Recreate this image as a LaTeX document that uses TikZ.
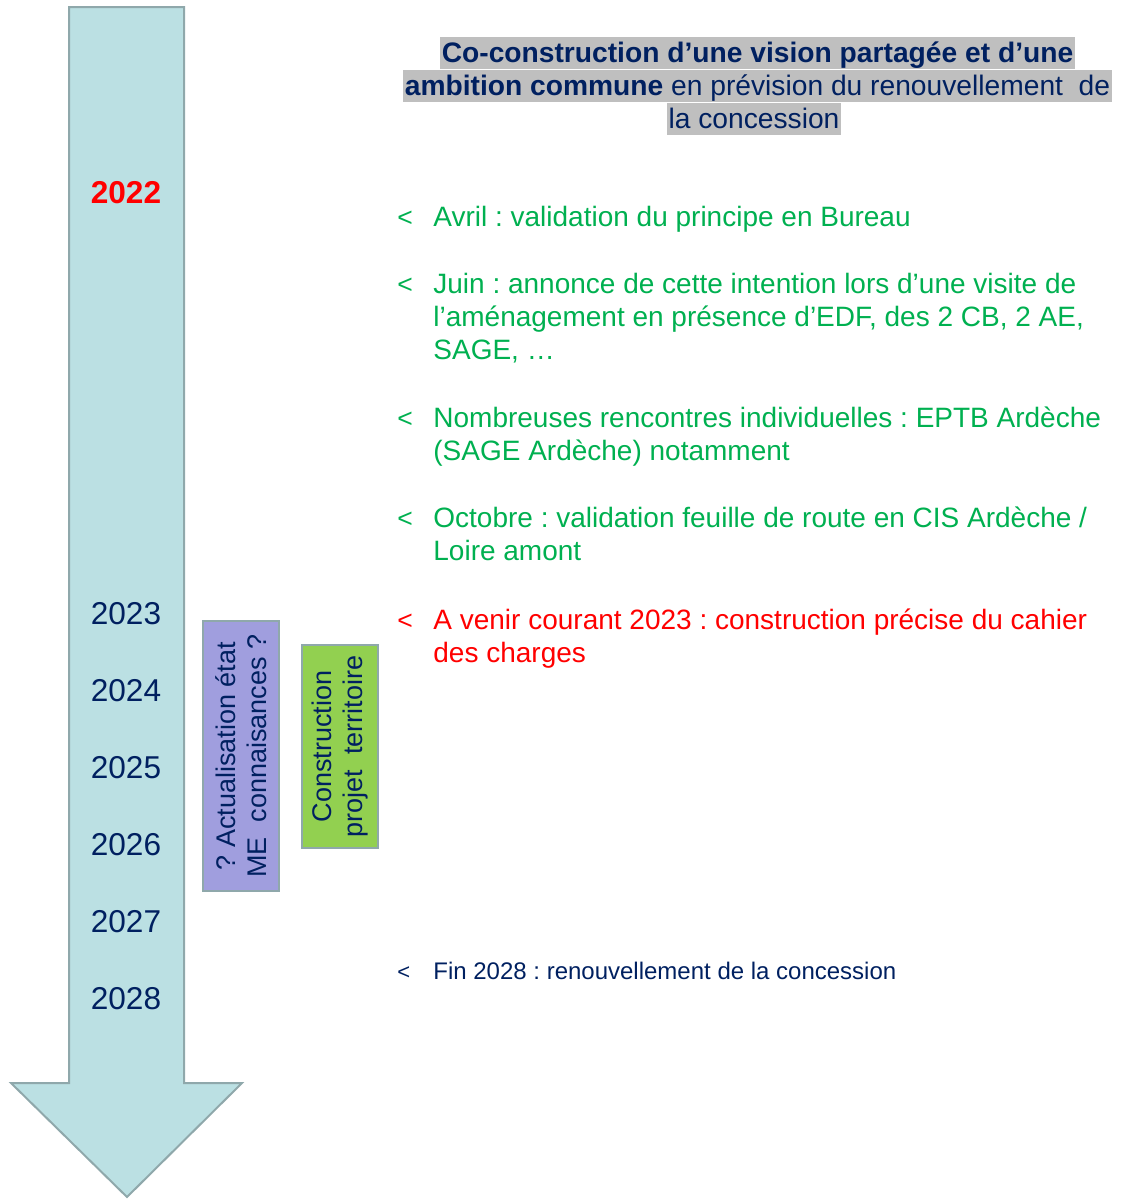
\documentclass[tikz,border=0pt]{standalone}
\usepackage{fontspec}
\setmainfont{Liberation Sans}
\frenchspacing
\definecolor{navy}{RGB}{0,32,96}
\definecolor{evgreen}{RGB}{0,176,80}
\definecolor{evred}{RGB}{255,0,0}
\definecolor{hlgray}{RGB}{191,191,191}
\definecolor{arrowfill}{RGB}{187,224,227}
\definecolor{edge}{RGB}{143,168,171}
\definecolor{phasepurple}{RGB}{160,158,222}
\definecolor{phasegreen}{RGB}{146,208,80}
\begin{document}
\begin{tikzpicture}[x=0.5pt,y=-0.5pt,
	year/.style={anchor=base,inner sep=0pt,text=navy,font=\fontsize{15.8}{19}\selectfont},
	headline/.style={anchor=base,fill=hlgray,inner xsep=1pt,inner ysep=0.4pt,text height=12.4pt,text depth=2.9pt,text=navy,font=\fontsize{14.1}{16.5}\selectfont},
	chev/.style={anchor=base west,inner sep=0pt,font=\fontsize{13.25}{16.5}\selectfont},
	evt/.style={anchor=base west,inner sep=0pt,align=left,font=\fontsize{14}{16.5}\selectfont},
	small/.style={font=\fontsize{12}{14}\selectfont},
	phase/.style={draw=edge,line width=1pt,rotate=90,align=center,inner sep=0pt,minimum height=38pt,text=navy,font=\fontsize{13.5}{15.5}\selectfont}]
	\useasboundingbox (0,0) rectangle (1124,1200);
	% time arrow
	\draw[draw=edge,fill=arrowfill,line width=1pt] (69,7) -- (184,7) -- (184,1083) -- (242,1083) -- (127,1197) -- (11,1083) -- (69,1083) -- cycle;
	\node[year,text=evred,font=\fontsize{15.8}{19}\selectfont\bfseries] (y2022) at (126,203) {2022};
	\foreach \yr/\yy in {2023/624,2024/701,2025/778,2026/855,2027/932,2028/1009}
		\node[year] (y\yr) at (126,\yy) {\yr};
	% phases
	\node[phase,fill=phasepurple,minimum width=135pt] (maj) at (241,756) {? Actualisation état\\ME\ \ connaisances ?};
	\node[phase,fill=phasegreen,minimum width=101.5pt] (proj) at (340,746.5) {Construction\\projet\ \ territoire};
	% heading
	\node[headline] (h1) at (757.5,62.5) {\bfseries Co-construction d’une vision partagée et d’une};
	\node[headline] (h2) at (757.5,95.5) {\bfseries ambition commune\mdseries{} en prévision du renouvellement\ \ de};
	\node[headline] (h3) at (754,128.5) {la concession};
	% events (base = last line)
	\node[chev,text=evgreen] (c1) at (397,226) {<};
	\node[evt,text=evgreen] (e1) at (433,226) {Avril : validation du principe en Bureau};
	\node[chev,text=evgreen] (c2) at (397,293) {<};
	\node[evt,text=evgreen] (e2) at (433,359) {Juin : annonce de cette intention lors d’une visite de\\l’aménagement en présence d’EDF, des 2 CB, 2 AE,\\SAGE, …};
	\node[chev,text=evgreen] (c3) at (397,427) {<};
	\node[evt,text=evgreen] (e3) at (433,460) {Nombreuses rencontres individuelles : EPTB Ardèche\\(SAGE Ardèche) notamment};
	\node[chev,text=evgreen] (c4) at (397,527) {<};
	\node[evt,text=evgreen] (e4) at (433,560) {Octobre : validation feuille de route en CIS Ardèche /\\Loire amont};
	\node[chev,text=evred] (c5) at (397,629) {<};
	\node[evt,text=evred] (e5) at (433,662) {A venir courant 2023 : construction précise du cahier\\des charges};
	\node[chev,text=navy,font=\fontsize{11}{13}\selectfont] (c6) at (397,979) {<};
	\node[evt,small,text=navy] (e6) at (433,979) {Fin 2028 : renouvellement de la concession};
\end{tikzpicture}
\end{document}
